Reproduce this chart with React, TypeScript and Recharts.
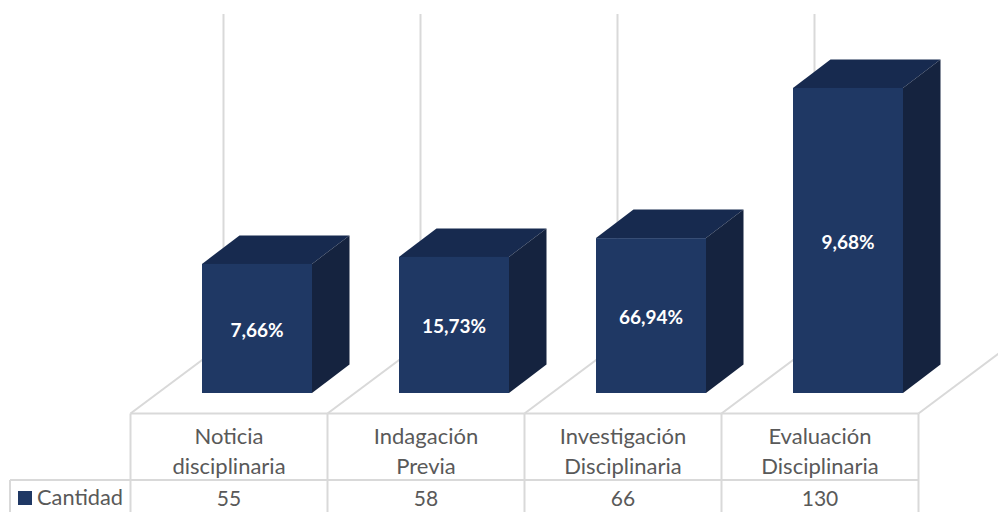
import React from "react";
import { BarChart, Bar, XAxis, YAxis, LabelList, CartesianGrid } from "recharts";

const categories = ["Noticia disciplinaria", "Indagación Previa", "Investigación Disciplinaria", "Evaluación Disciplinaria"];
const cantidad = [55, 58, 66, 130];
const percentLabels = ["7,66%", "15,73%", "66,94%", "9,68%"];
const seriesName = "Cantidad";

const data = categories.map((name, i) => ({ name, cantidad: cantidad[i], label: percentLabels[i] }));

const W = 998, H = 512;
const FRONT = "#1f3864", SIDE = "#15233f", TOP = "#172a4f";
const GRID = "#d9d9d9", TEXT = "#595959";
const FONT = "Lato, Carlito, 'Open Sans', sans-serif";
const DX = 37.5, DY = 28.5;
const BAND_SHIFT = 27.5, HALF_BAND = 98.5;
const Y_FLOOR = 413.5, Y_ROW = 480, Y_WALL_TOP = 14;
const WALL_DX = 93, WALL_DY = 69.5;

function Box(props: any) {
  const { x, y, width, height } = props;
  const r = x + width, b = y + height;
  return (
    <g>
      <polygon points={`${x},${y} ${x + DX},${y - DY} ${r + DX},${y - DY} ${r},${y}`} fill={TOP} />
      <polygon points={`${r},${y} ${r + DX},${y - DY} ${r + DX},${b - DY} ${r},${b}`} fill={SIDE} />
      <rect x={x} y={y} width={width} height={height} fill={FRONT} />
    </g>
  );
}

function Line2({ x1, y1, x2, y2 }: any) {
  return <line x1={x1} y1={y1} x2={x2} y2={y2} stroke={GRID} strokeWidth={2} />;
}

function WallLine(props: any) {
  const x = props.x1;
  return (
    <path
      d={`M${x},${Y_WALL_TOP} L${x},${Y_FLOOR - WALL_DY} L${x - WALL_DX},${Y_FLOOR}`}
      fill="none"
      stroke={GRID}
      strokeWidth={2}
    />
  );
}

function TableTick(props: any) {
  const { x, index, payload } = props;
  const cx = x - BAND_SHIFT;
  const left = cx - HALF_BAND, right = cx + HALF_BAND;
  const words = String(payload.value).split(" ");
  const last = index === categories.length - 1;
  return (
    <g>
      {last && <Line2 x1={right} y1={Y_FLOOR} x2={right + WALL_DX} y2={Y_FLOOR - WALL_DY} />}
      <Line2 x1={left} y1={Y_FLOOR} x2={right} y2={Y_FLOOR} />
      <Line2 x1={left} y1={Y_ROW} x2={right} y2={Y_ROW} />
      <Line2 x1={left} y1={Y_FLOOR} x2={left} y2={H} />
      {last && <Line2 x1={right} y1={Y_FLOOR} x2={right} y2={H} />}
      <text x={cx} y={444} textAnchor="middle" fontSize={22} fontFamily={FONT} fill={TEXT}>{words[0]}</text>
      <text x={cx} y={474} textAnchor="middle" fontSize={22} fontFamily={FONT} fill={TEXT}>{words[1]}</text>
      <text x={cx} y={506} textAnchor="middle" fontSize={21} fontFamily={FONT} fill={TEXT}>{cantidad[index]}</text>
      {index === 0 && (
        <g>
          <Line2 x1={10} y1={Y_ROW} x2={left} y2={Y_ROW} />
          <Line2 x1={10} y1={Y_ROW} x2={10} y2={H} />
          <rect x={18} y={491} width={14} height={14} fill={FRONT} />
          <text x={37} y={505} fontSize={21.8} fontFamily={FONT} fill={TEXT}>{seriesName}</text>
        </g>
      )}
    </g>
  );
}

export default function App() {
  return (
    <div style={{ position: "absolute", left: 0, top: 0, width: W, height: H, background: "#fff" }}>
      <BarChart
        width={W}
        height={H}
        data={data}
        barSize={110}
        margin={{ top: 14, right: W - 946, bottom: 0, left: 158 }}
      >
        <CartesianGrid
          horizontal={false}
          vertical={<WallLine />}
          verticalCoordinatesGenerator={({ offset }: any) =>
            categories.map((_, i) => offset.left + (offset.width * (i + 0.5)) / categories.length - 33)
          }
        />
        <YAxis hide domain={[0, 161.5]} />
        <XAxis
          dataKey="name"
          height={119}
          interval={0}
          axisLine={false}
          tickLine={false}
          tick={<TableTick />}
        />
        <Bar dataKey="cantidad" name={seriesName} fill={FRONT} shape={<Box />} isAnimationActive={false}>
          <LabelList dataKey="label" position="center" dy={1.5} fill="#ffffff" fontSize={19} fontWeight={700} fontFamily={FONT} />
        </Bar>
      </BarChart>
    </div>
  );
}
